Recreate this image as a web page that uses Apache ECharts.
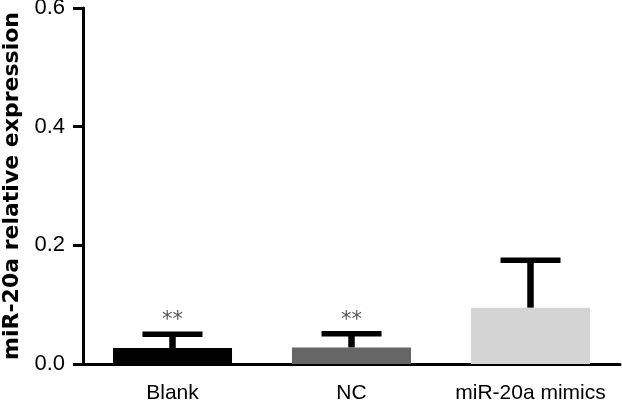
<!DOCTYPE html>
<html lang="en">
<head>
  <meta charset="utf-8">
  <title>miR-20a relative expression</title>
  <style>
    html, body { margin: 0; padding: 0; background: #fff; }
    .box { width: 622px; height: 402px; }
  </style>
</head>
<body>
  <script src="https://cdn.jsdelivr.net/npm/echarts@6/dist/echarts.min.js"></script>
  <div class="box"></div>
  <script>
    // 数据
    var categories = ['Blank', 'NC', 'miR-20a mimics'];
    var means = [0.027, 0.028, 0.095];
    var errTops = [0.050, 0.051, 0.175];
    var marks = ['**', '**', ''];
    var barColors = ['#000000', '#666666', '#d4d4d4'];

    var myChart = echarts.init(document.querySelector('.box'));

    var errData = categories.map(function (c, i) { return [i, means[i], errTops[i], marks[i]]; });

    var option = {
      animation: false,
      textStyle: { fontFamily: 'Liberation Sans, Arial, sans-serif' },
      grid: { left: 83, right: 2, top: 8, bottom: 38, outerBoundsMode: 'none' },
      xAxis: {
        type: 'category',
        data: categories,
        axisLine: { lineStyle: { color: '#000', width: 3 } },
        axisTick: { alignWithLabel: true, length: 10, lineStyle: { color: '#000', width: 3 } },
        axisLabel: { color: '#000', fontSize: 21, margin: 19, interval: 0, hideOverlap: false }
      },
      yAxis: {
        type: 'value',
        min: 0,
        max: 0.6,
        interval: 0.2,
        name: 'miR-20a relative expression',
        nameLocation: 'middle',
        nameGap: 58,
        nameTextStyle: { color: '#000', fontSize: 22, fontWeight: 'bold', fontFamily: 'DejaVu Sans' },
        splitLine: { show: false },
        axisLine: { show: true, lineStyle: { color: '#000', width: 3 } },
        axisTick: { show: true, length: 10, lineStyle: { color: '#000', width: 3 } },
        axisLabel: {
          color: '#000', fontSize: 22, margin: 18,
          formatter: function (v) { return v.toFixed(1); }
        }
      },
      series: [
        {
          type: 'bar',
          data: means.map(function (v, i) { return { value: v, itemStyle: { color: barColors[i] } }; }),
          barCategoryGap: '33.5%',
          z: 2
        },
        {
          type: 'custom',
          data: errData,
          z: 3,
          renderItem: function (params, api) {
            var base = api.coord([api.value(0), api.value(1)]);
            var top = api.coord([api.value(0), api.value(2)]);
            var half = 30;
            var children = [
              { type: 'line', shape: { x1: base[0], y1: base[1], x2: top[0], y2: top[1] },
                style: { stroke: '#000', lineWidth: 6.5 } },
              { type: 'line', shape: { x1: top[0] - half, y1: top[1], x2: top[0] + half, y2: top[1] },
                style: { stroke: '#000', lineWidth: 5.5 } }
            ];
            var m = errData[params.dataIndex][3];
            if (m) {
              children.push({ type: 'text', style: {
                text: m, x: top[0], y: top[1] - 3, align: 'center', verticalAlign: 'bottom',
                fill: '#555', fontSize: 21, fontFamily: 'DejaVu Sans'
              } });
            }
            return { type: 'group', children: children };
          }
        }
      ]
    };
    myChart.setOption(option);
  </script>
</body>
</html>
